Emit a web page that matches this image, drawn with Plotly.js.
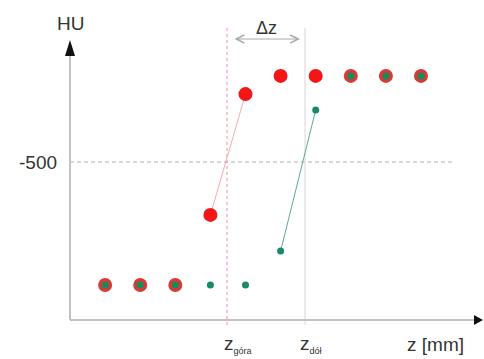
<!DOCTYPE html>
<html>
<head>
<meta charset="utf-8">
<script src="https://cdn.plot.ly/plotly-3.0.1.min.js"></script>
<style>html,body{margin:0;padding:0;background:#fff;}#chart{width:484px;height:359px;}</style>
</head>
<body>
<div id="chart"></div>
<script>
// Slice positions (z) and HU values
const zPos = [1, 2, 3, 4, 5, 6, 7, 8, 9, 10];
const huRed = [-1000, -1000, -1000, -715, -224, -150, -150, -150, -150, -150];
const huGreen = [-1000, -1000, -1000, -1000, -1000, -862, -289, -150, -150, -150];
const thresholdHU = -500;
const zGora = 4.473;
const zDol = 6.695;
const tickLabels = ['-500'];

const FONT = 'Liberation Sans, Arial, sans-serif';
const redCol = '#f21616';
const redOverlap = '#d83a36';
const greenCol = '#178a5e';

const redColors = huRed.map((v, i) => v === huGreen[i] ? redOverlap : redCol);

const traces = [
  {x: [zPos[3], zPos[4]], y: [huRed[3], huRed[4]], mode: 'lines', line: {color: '#f5aab0', width: 1}, hoverinfo: 'skip'},
  {x: [zPos[5], zPos[6]], y: [huGreen[5], huGreen[6]], mode: 'lines', line: {color: '#5aad8e', width: 1}, hoverinfo: 'skip'},
  {x: zPos, y: huRed, mode: 'markers', marker: {color: redColors, size: 14, line: {width: 0}}},
  {x: zPos, y: huGreen, mode: 'markers', marker: {color: greenCol, size: 7, line: {width: 0}}}
];

const yTop = -4, yBot = -1142, xEnd = 11.766;

const shapes = [
  // threshold line
  {type: 'line', xref: 'x', yref: 'y', x0: 0, x1: 10.97, y0: thresholdHU, y1: thresholdHU, line: {color: '#b0b0b0', width: 1, dash: '4px,3px'}, layer: 'below'},
  // vertical markers
  {type: 'line', xref: 'x', yref: 'y', x0: zGora, x1: zGora, y0: 45, y1: -1162, line: {color: '#f28c9c', width: 1, dash: 'dot'}, layer: 'below'},
  {type: 'line', xref: 'x', yref: 'y', x0: zDol, x1: zDol, y0: 45, y1: -1162, line: {color: '#d6d6d6', width: 1}, layer: 'below'},
  // axes
  {type: 'line', xref: 'x', yref: 'y', x0: 0, x1: 0, y0: yBot, y1: yTop - 50, line: {color: '#c2c2c2', width: 2}, layer: 'below'},
  {type: 'line', xref: 'x', yref: 'y', x0: 0, x1: xEnd - 0.2, y0: yBot, y1: yBot, line: {color: '#c2c2c2', width: 2}, layer: 'below'},
  // arrowheads
  {type: 'path', xref: 'x', yref: 'y', xsizemode: 'pixel', ysizemode: 'pixel', xanchor: 0, yanchor: yTop,
   path: 'M -5 -16 L 0 0 L 5 -16 Z', fillcolor: '#111', line: {width: 0}},
  {type: 'path', xref: 'x', yref: 'y', xsizemode: 'pixel', ysizemode: 'pixel', xanchor: xEnd, yanchor: yBot,
   path: 'M -9 5 L 0 0 L -9 -5 Z', fillcolor: '#111', line: {width: 0}}
];

const annotations = [
  {xref: 'x', yref: 'y', x: 0, y: 62, text: 'HU', showarrow: false, font: {family: FONT, size: 19, color: '#333'}, xanchor: 'center', yanchor: 'middle'},
  {xref: 'x', yref: 'y', x: -0.3, y: thresholdHU, text: tickLabels[0], showarrow: false, font: {family: FONT, size: 19, color: '#333'}, xanchor: 'right', yanchor: 'middle'},
  {xref: 'x', yref: 'y', x: 10.4, y: -1240, text: 'z [mm]', showarrow: false, font: {family: FONT, size: 19, color: '#333'}, xanchor: 'center', yanchor: 'middle'},
  {xref: 'x', yref: 'y', x: zGora - 0.15, y: -1240, text: 'z<sub><span style="font-size:9px">góra</span></sub>', showarrow: false, font: {family: FONT, size: 19, color: '#333'}, xanchor: 'left', yanchor: 'middle'},
  {xref: 'x', yref: 'y', x: zDol - 0.2, y: -1240, text: 'z<sub><span style="font-size:9px">dół</span></sub>', showarrow: false, font: {family: FONT, size: 19, color: '#333'}, xanchor: 'left', yanchor: 'middle'},
  {xref: 'x', yref: 'y', x: (zGora + zDol) / 2, y: 46, text: 'Δz', showarrow: false, font: {family: FONT, size: 18, color: '#333'}, xanchor: 'center', yanchor: 'middle'},
  {xref: 'x', yref: 'y', x: zDol - 0.14, y: 0, axref: 'x', ayref: 'y', ax: zGora + 0.17, ay: 0, text: '', showarrow: true,
   arrowhead: 5, startarrowhead: 5, arrowside: 'end+start', arrowcolor: '#aaaaaa', arrowwidth: 1, arrowsize: 1.6, startarrowsize: 1.6, standoff: 0, startstandoff: 0}
];

const layout = {
  width: 484, height: 359,
  margin: {l: 40, r: 0, t: 10, b: 5},
  paper_bgcolor: '#fff', plot_bgcolor: '#fff',
  showlegend: false,
  xaxis: {range: [-0.855, 11.795], visible: false, fixedrange: true},
  yaxis: {range: [-1280.4, 117.95], visible: false, fixedrange: true},
  shapes: shapes,
  annotations: annotations
};

Plotly.newPlot('chart', traces, layout, {displayModeBar: false, staticPlot: true});
</script>
</body>
</html>
